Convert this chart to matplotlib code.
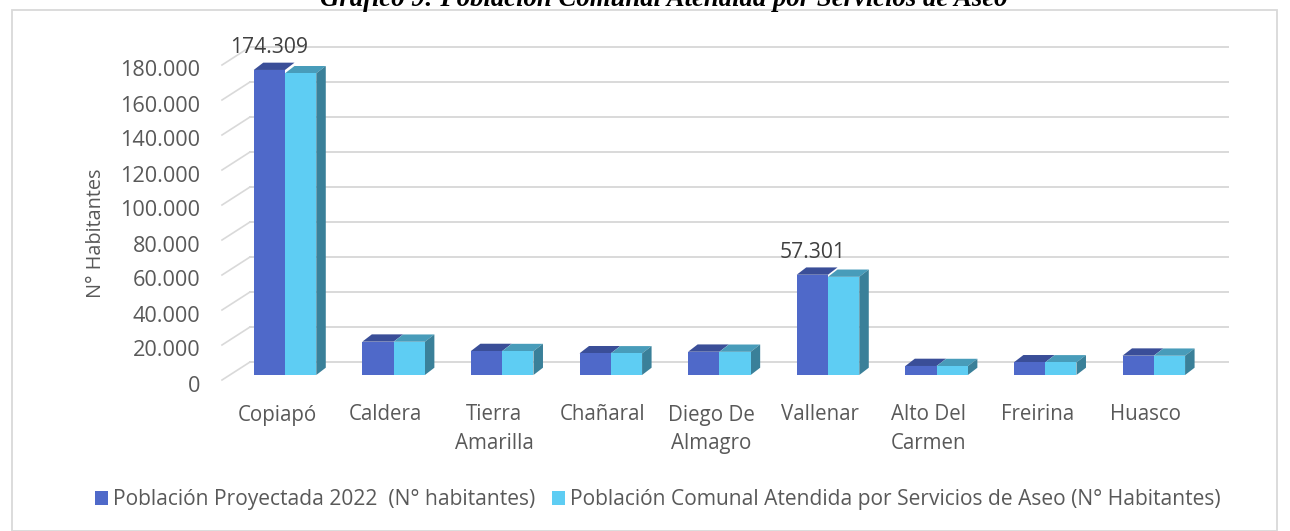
import matplotlib
matplotlib.use("Agg")

import matplotlib.pyplot as plt
from matplotlib.patches import Patch, Polygon, Rectangle

# ── Data ─────────────────────────────────────────────────────────────────────

comunas = ["Copiapó", "Caldera", "Tierra\nAmarilla", "Chañaral", "Diego De\nAlmagro",
           "Vallenar", "Alto Del\nCarmen", "Freirina", "Huasco"]
proyectada = [174309, 19050, 13700, 12400, 13300, 57301, 5150, 7250, 11050]
atendida = [172400, 19000, 13650, 12350, 13250, 56100, 5100, 7200, 11000]
labelled = {0: "174.309", 5: "57.301"}   # only these bars carry a data label
yticks = list(range(0, 200000, 20000))

serie_1 = "Población Proyectada 2022  (N° habitantes)"
serie_2 = "Población Comunal Atendida por Servicios de Aseo (N° Habitantes)"
title = "Gráfico 9: Población Comunal Atendida por Servicios de Aseo"

# ── Style ────────────────────────────────────────────────────────────────────

W, H = 1290, 531
PX_X = 1 / 108.6          # category units per pixel
PX_Y = 20000 / 35.0       # value units per pixel

TXT = "#595959"
GRID = "#D9D9D9"
BLUE, BLUE_TOP = "#4F69C9", "#3A4E98"
CYAN, CYAN_TOP, CYAN_SIDE = "#5ECDF3", "#489CBA", "#3A8099"

BAR_W = 0.288
DEPTH_X, DEPTH_Y = 9.5 * PX_X, 7.3 * PX_Y      # bar depth (oblique)
WALL_Y = 13 * PX_Y                               # back wall vs bar base
FRONT_Y = -5 * PX_Y                              # front edge of left wall
WALL_LEFT, WALL_FRONT, WALL_RIGHT = -0.322, -0.580, 8.683

plt.rcParams["font.family"] = ["Open Sans", "DejaVu Sans"]

fig = plt.figure(figsize=(W / 100, H / 100), dpi=100)
ax = fig.add_axes([0, 0, 1, 1])
ax.set_xlim(-285 * PX_X, (W - 285) * PX_X)
ax.set_ylim(-(H - 375) * PX_Y, 375 * PX_Y)
ax.axis("off")

# outer frame
fig.patches.append(Rectangle((12 / W, 0), (1277 - 12) / W, 1 - 10 / H,
                             transform=fig.transFigure, fill=False,
                             edgecolor=GRID, linewidth=1.3))

# title is cut by the top edge in the original, kept that way
fig.text(664 / W, 1 - 6 / H, title, ha="center", va="baseline",
         family="Liberation Serif", weight="bold", style="italic",
         fontsize=19.3, color="black")

# ── Walls: back gridlines + left wall diagonals ──────────────────────────────

for t in yticks:
    ax.plot([WALL_LEFT, WALL_RIGHT], [t + WALL_Y, t + WALL_Y],
            color=GRID, linewidth=1.4, zorder=1)
    ax.plot([WALL_FRONT, WALL_LEFT], [t + FRONT_Y, t + WALL_Y],
            color=GRID, linewidth=1.2, zorder=1)
    lab = f"{t:,}".replace(",", ".")
    ax.text(-85 * PX_X, t - 11 * PX_Y, lab, ha="right", va="center",
            fontsize=15.6, color=TXT)

ax.text(-189 * PX_X, 81000, "N° Habitantes", rotation=90, ha="center",
        va="center", fontsize=14.3, color=TXT)

# ── Bars (oblique 3D look) ───────────────────────────────────────────────────

for i, (v1, v2) in enumerate(zip(proyectada, atendida)):
    x0, xm, x1 = i - BAR_W, i, i + BAR_W
    # blue top face
    ax.add_patch(Polygon([(x0, v1), (xm, v1), (xm + DEPTH_X, v1 + DEPTH_Y),
                          (x0 + DEPTH_X, v1 + DEPTH_Y)],
                         facecolor=BLUE_TOP, edgecolor="none", zorder=2))
    # cyan top + side
    ax.add_patch(Polygon([(xm, v2), (x1, v2), (x1 + DEPTH_X, v2 + DEPTH_Y),
                          (xm + DEPTH_X, v2 + DEPTH_Y)],
                         facecolor=CYAN_TOP, edgecolor="none", zorder=2))
    ax.add_patch(Polygon([(x1, 0), (x1, v2), (x1 + DEPTH_X, v2 + DEPTH_Y),
                          (x1 + DEPTH_X, DEPTH_Y)],
                         facecolor=CYAN_SIDE, edgecolor="none", zorder=2))

idx = list(range(len(comunas)))
ax.bar([i - BAR_W / 2 for i in idx], proyectada, width=BAR_W, color=BLUE, zorder=3)
ax.bar([i + BAR_W / 2 for i in idx], atendida, width=BAR_W, color=CYAN, zorder=3)

for i, txt in labelled.items():
    ax.text(i - BAR_W / 2, proyectada[i] + 22 * PX_Y, txt, ha="center",
            va="center", fontsize=15.2, color="#404040")

# ── Category labels ──────────────────────────────────────────────────────────

for i, name in enumerate(comunas):
    for k, line in enumerate(name.split("\n")):
        ax.text(i - 8 * PX_X, -(40 + 28.5 * k) * PX_Y, line, ha="center",
                va="center", fontsize=14.8, color=TXT)

# ── Legend ───────────────────────────────────────────────────────────────────

handles = [Patch(facecolor=BLUE, label=serie_1), Patch(facecolor=CYAN, label=serie_2)]
fig.legend(handles=handles, loc="center", bbox_to_anchor=(658 / W, 1 - 500 / H),
           ncol=2, frameon=False, fontsize=15.1, labelcolor=TXT,
           handlelength=0.62, handleheight=0.62, handletextpad=0.25,
           columnspacing=0.8)

fig.savefig("out.png", dpi=100)
